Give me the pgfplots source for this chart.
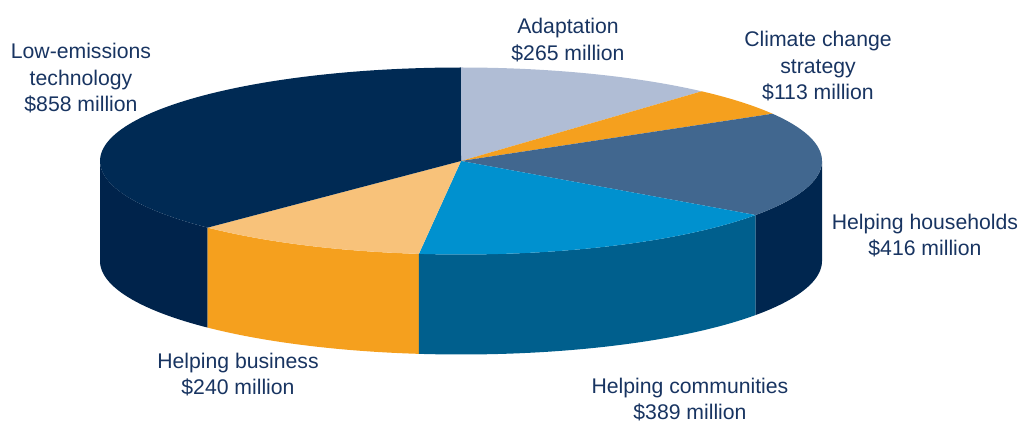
\documentclass[border=0pt]{standalone}
\usepackage{pgfplots}
\pgfplotsset{compat=1.18}
\usepackage{fontspec}
\setmainfont{Liberation Sans}
\definecolor{adapt}{HTML}{B0BDD5}
\definecolor{climate}{HTML}{F5A01E}
\definecolor{houseTop}{HTML}{41678F}
\definecolor{houseSide}{HTML}{00264F}
\definecolor{comTop}{HTML}{0091CF}
\definecolor{comSide}{HTML}{005F8D}
\definecolor{busTop}{HTML}{F8C27A}
\definecolor{busSide}{HTML}{F5A01E}
\definecolor{lowTop}{HTML}{002A54}
\definecolor{lowSide}{HTML}{00234B}
\definecolor{textc}{HTML}{183461}
\tikzset{lbl/.style={font=\fontsize{15.9}{19.9}\selectfont, text=textc, align=center, inner sep=0pt}}
% data (million $)
\def\vA{265}% Adaptation
\def\vB{113}% Climate change strategy
\def\vC{416}% Helping households
\def\vD{389}% Helping communities
\def\vE{240}% Helping business
\def\vF{858}% Low-emissions technology
\pgfmathsetmacro{\T}{\vA+\vB+\vC+\vD+\vE+\vF}
\pgfmathsetmacro{\bO}{90}
\pgfmathsetmacro{\bA}{\bO-360*(\vA/\T)}
\pgfmathsetmacro{\bB}{\bA-360*(\vB/\T)}
\pgfmathsetmacro{\bC}{\bB-360*(\vC/\T)}
\pgfmathsetmacro{\bD}{\bC-360*(\vD/\T)}
\pgfmathsetmacro{\bE}{\bD-360*(\vE/\T)}
\pgfmathsetmacro{\bF}{\bE-360*(\vF/\T)}
\def\cx{461}\def\cy{161}\def\rx{361}\def\ry{93.5}\def\dd{100}
\newcommand{\topslice}[3]{%
  \addplot[fill=#1, draw=none, domain=#2:#3, samples=90, variable=\t]
    ({\cx+\rx*cos(\t)},{\cy-\ry*sin(\t)}) -- (axis cs:\cx,\cy) -- cycle;}
\newcommand{\sideslice}[3]{%
  \addplot[fill=#1, draw=none, domain=0:3, samples=181, variable=\t]
    ({\cx+\rx*cos(#2+(#3-(#2))*(min(\t,1)-max(\t-2,0)))},
     {\cy-\ry*sin(#2+(#3-(#2))*(min(\t,1)-max(\t-2,0)))+\dd*min(max(\t-1,0),1)}) -- cycle;}
\begin{document}
\begin{tikzpicture}
\begin{axis}[x=0.75pt, y=0.75pt, y dir=reverse,
  xmin=0, xmax=1021, ymin=0, ymax=423,
  hide axis, clip=false]
\path (axis cs:0,0) rectangle (axis cs:1021,423);
% sides
\sideslice{lowSide}{-180}{\bE}
\sideslice{busSide}{\bE}{\bD}
\sideslice{comSide}{\bD}{\bC}
\sideslice{houseSide}{\bC}{0}
% tops
\topslice{adapt}{\bA}{\bO}
\topslice{climate}{\bB}{\bA}
\topslice{houseTop}{\bC}{\bB}
\topslice{comTop}{\bD}{\bC}
\topslice{busTop}{\bE}{\bD}
\topslice{lowTop}{\bF}{\bE}
% labels
\node[lbl] at (axis cs:568,40) {Adaptation\\\$\vA{} million};
\node[lbl] at (axis cs:818,66.5) {Climate change\\strategy\\\$\vB{} million};
\node[lbl] at (axis cs:925,235.5) {Helping households\\\$\vC{} million};
\node[lbl] at (axis cs:690,399.5) {Helping communities\\\$\vD{} million};
\node[lbl] at (axis cs:238,374.5) {Helping business\\\$\vE{} million};
\node[lbl] at (axis cs:81,78.5) {Low-emissions\\technology\\\$\vF{} million};
\end{axis}
\end{tikzpicture}
\end{document}
